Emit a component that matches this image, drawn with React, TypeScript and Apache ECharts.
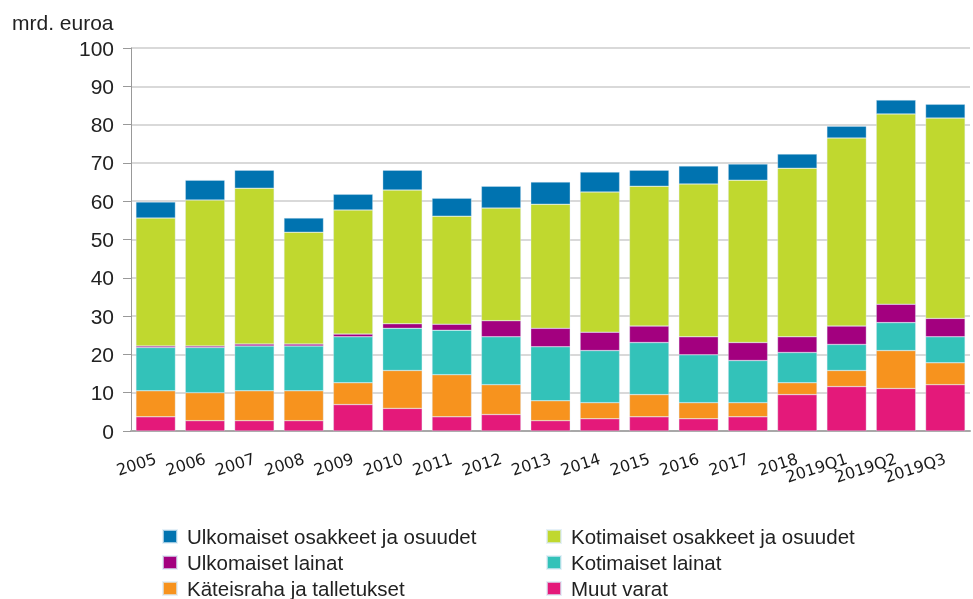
import React, { useEffect, useRef } from "react";
import * as echarts from "echarts";

const categories = ["2005","2006","2007","2008","2009","2010","2011","2012","2013","2014","2015","2016","2017","2018","2019Q1","2019Q2","2019Q3"];

const muutVarat = [3.7,2.7,2.7,2.7,6.9,5.9,3.7,4.3,2.7,3.2,3.7,3.2,3.7,9.5,11.6,11.1,12.1];
const kateisraha = [6.8,7.3,7.8,7.8,5.7,9.9,11.0,7.8,5.2,4.2,5.8,4.2,3.7,3.1,4.2,9.9,5.7];
const kotimaisetLainat = [11.3,11.8,11.7,11.7,12.0,11.0,11.6,12.5,14.1,13.6,13.6,12.5,11.0,7.9,6.8,7.3,6.8];
const ulkomaisetLainat = [0.4,0.4,0.5,0.5,0.7,1.2,1.6,4.2,4.8,4.8,4.3,4.7,4.7,4.1,4.8,4.8,4.8];
const kotimaisetOsakkeet = [33.4,38.1,40.7,29.2,32.4,34.9,28.2,29.4,32.4,36.6,36.5,39.9,42.4,44.0,49.1,49.7,52.3];
const ulkomaisetOsakkeet = [4.2,5.2,4.7,3.7,4.1,5.2,4.7,5.7,5.8,5.2,4.2,4.7,4.2,3.7,3.1,3.6,3.6];

const yTicks = { min: 0, max: 100, interval: 10 };

const seriesDefs = [
  { name: "Muut varat", data: muutVarat, color: "#e4197a" },
  { name: "Käteisraha ja talletukset", data: kateisraha, color: "#f7931e" },
  { name: "Kotimaiset lainat", data: kotimaisetLainat, color: "#33c2b9" },
  { name: "Ulkomaiset lainat", data: ulkomaisetLainat, color: "#a3007f" },
  { name: "Kotimaiset osakkeet ja osuudet", data: kotimaisetOsakkeet, color: "#c0d82f" },
  { name: "Ulkomaiset osakkeet ja osuudet", data: ulkomaisetOsakkeet, color: "#0073b0" },
];

const FONT = "'Liberation Sans', Arial, sans-serif";

const legendBase = {
  orient: "vertical",
  top: 526,
  height: 80,
  padding: 0,
  itemWidth: 14,
  itemHeight: 13,
  itemGap: 5,
  icon: "rect",
  textStyle: { fontSize: 20.5, lineHeight: 20, color: "#222", fontFamily: FONT, padding: [0, 0, 0, 5] },
};

export default function App() {
  const ref = useRef<HTMLDivElement>(null);
  useEffect(() => {
    if (!ref.current) return;
    const chart = echarts.init(ref.current, null, { renderer: "svg" });
    chart.setOption({
      animation: false,
      textStyle: { fontFamily: FONT },
      title: {
        text: "mrd. euroa",
        left: 7,
        top: 7,
        textStyle: { fontSize: 21, fontWeight: "normal", color: "#222", fontFamily: FONT },
      },
      grid: { left: 131, right: 3, top: 48, bottom: 168, containLabel: false },
      legend: [
        {
          ...legendBase,
          left: 157,
          data: ["Ulkomaiset osakkeet ja osuudet", "Ulkomaiset lainat", "Käteisraha ja talletukset"],
        },
        {
          ...legendBase,
          left: 541,
          data: ["Kotimaiset osakkeet ja osuudet", "Kotimaiset lainat", "Muut varat"],
        },
      ].map((l) => ({ ...l, left: l.left + 5 })),
      xAxis: {
        type: "category",
        data: categories,
        axisLine: { lineStyle: { color: "#a8a8a8", width: 2 } },
        axisTick: { show: false },
        axisLabel: {
          rotate: 18,
          interval: 0,
          margin: 27,
          fontSize: 16,
          color: "#1a1a1a",
          fontFamily: "'DejaVu Sans', Verdana, sans-serif",
        },
      },
      yAxis: {
        type: "value",
        min: yTicks.min,
        max: yTicks.max,
        interval: yTicks.interval,
        axisLine: { show: true, lineStyle: { color: "#999", width: 1 } },
        axisTick: { show: true, length: 8, lineStyle: { color: "#999" } },
        axisLabel: { fontSize: 21, color: "#222", margin: 17, fontFamily: FONT },
        splitLine: { lineStyle: { color: "#cccccc", width: 1.5 } },
      },
      series: seriesDefs.map((s) => ({
        name: s.name,
        type: "bar",
        stack: "total",
        data: s.data,
        barCategoryGap: "20%",
        itemStyle: { color: s.color, borderColor: "rgba(220,235,245,0.7)", borderWidth: 0.5 },
      })),
    });
    return () => chart.dispose();
  }, []);
  return (
    <div
      ref={ref}
      style={{ position: "fixed", left: 0, top: 0, width: 973, height: 599 }}
    />
  );
}
